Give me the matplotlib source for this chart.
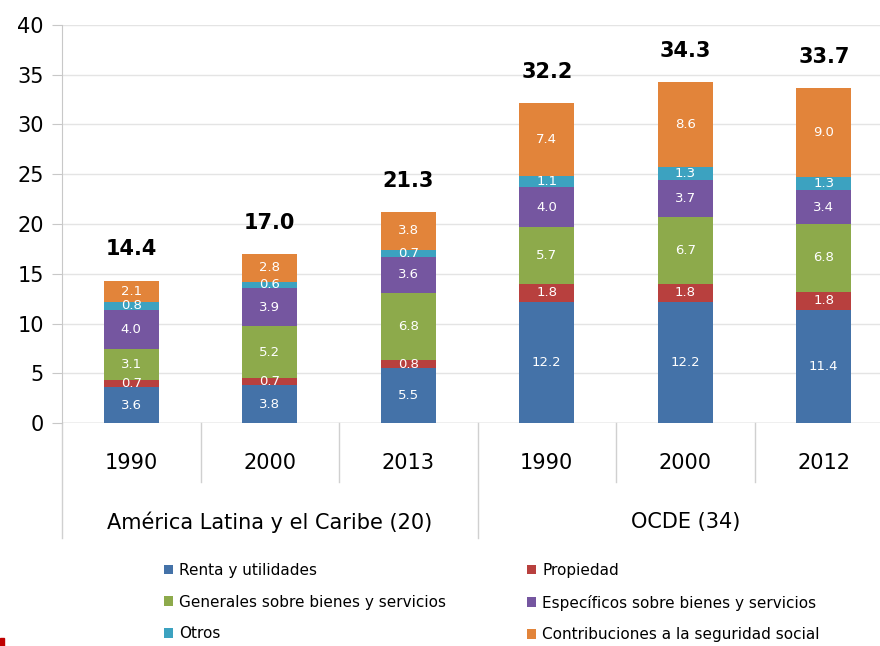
import matplotlib
matplotlib.use('Agg')
from matplotlib import pyplot as plt
from matplotlib.patches import Rectangle
import numpy as np

# datos (% del PIB)
years = ['1990', '2000', '2013', '1990', '2000', '2012']
groups = ['América Latina y el Caribe (20)', 'OCDE (34)']
series_names = ['Renta y utilidades', 'Propiedad',
                'Generales sobre bienes y servicios', 'Específicos sobre bienes y servicios',
                'Otros', 'Contribuciones a la seguridad social']
renta = [3.6, 3.8, 5.5, 12.2, 12.2, 11.4]
propiedad = [0.7, 0.7, 0.8, 1.8, 1.8, 1.8]
generales = [3.1, 5.2, 6.8, 5.7, 6.7, 6.8]
especificos = [4.0, 3.9, 3.6, 4.0, 3.7, 3.4]
otros = [0.8, 0.6, 0.7, 1.1, 1.3, 1.3]
contribuciones = [2.1, 2.8, 3.8, 7.4, 8.6, 9.0]
totals = [14.4, 17.0, 21.3, 32.2, 34.3, 33.7]

colors = ['#4472A8', '#B8403E', '#8DAA4B', '#7556A0', '#3CA2C0', '#E2843A']

plt.rcParams['font.family'] = ['DejaVu Sans']

fig = plt.figure(figsize=(8.8, 6.46), dpi=100)
ax = fig.add_axes([62 / 880, 1 - 423 / 646, 818 / 880, (423 - 25) / 646])

x = np.arange(len(years))
bottom = np.zeros(len(years))
all_series = [renta, propiedad, generales, especificos, otros, contribuciones]
handles = []
for vals, name, c in zip(all_series, series_names, colors):
    vals = np.array(vals)
    h = ax.bar(x, vals, 0.4, bottom=bottom, color=c, label=name, zorder=3)
    handles.append(h)
    for xi, b, v in zip(x, bottom, vals):
        ax.text(xi, b + v / 2, '%.1f' % v, ha='center', va='center',
                color='white', fontsize=9.5, zorder=4)
    bottom += vals

for xi, t in zip(x, totals):
    ax.annotate('%.1f' % t, (xi, t), xytext=(0, 22), textcoords='offset points',
                ha='center', va='center', fontsize=15, fontweight='bold')

ax.set_ylim(0, 40)
ax.set_yticks(range(0, 41, 5))
ax.set_xlim(-0.5, 5.406)
ax.set_xticks([])
ax.yaxis.grid(True, color='#e4e4e4', lw=1, zorder=0)
ax.tick_params(axis='y', labelsize=15, length=7, color='#c8c8c8', pad=6)
for s in ['top', 'right', 'bottom']:
    ax.spines[s].set_visible(False)
ax.spines['left'].set_color('#c8c8c8')
ax.axhline(0, color='#c8c8c8', lw=1, zorder=2)

# ejes de categorias en dos niveles
trans = ax.get_xaxis_transform()
ax_h = 398.0
for xi, y in zip(x, years):
    ax.text(xi, -40 / ax_h, y, transform=trans, ha='center', va='center', fontsize=15)
for k, g in enumerate(groups):
    ax.text(1 + 3 * k, -99 / ax_h, g, transform=trans, ha='center', va='center', fontsize=15)
for xs in [0.5, 1.5, 3.5, 4.5]:
    ax.plot([xs, xs], [0, -59 / ax_h], transform=trans, color='#d0d0d0', lw=1, clip_on=False)
for xs in [-0.5, 2.5, 5.5]:
    ax.plot([xs, xs], [0, -115 / ax_h], transform=trans, color='#d0d0d0', lw=1, clip_on=False)

# leyenda por filas
order = [0, 2, 4, 1, 3, 5]
leg = fig.legend([handles[i] for i in order], [series_names[i] for i in order],
                 loc='upper left', bbox_to_anchor=(150 / 880, 1 - 549 / 646), ncol=2,
                 frameon=False, fontsize=11, handlelength=0.6, handleheight=0.6,
                 handletextpad=0.4, columnspacing=5.3, labelspacing=1.1)

fig.patches.append(Rectangle((0, 0), 4 / 880, 8 / 646, transform=fig.transFigure,
                             color='#C00000'))

plt.savefig('out.png', dpi=100)
